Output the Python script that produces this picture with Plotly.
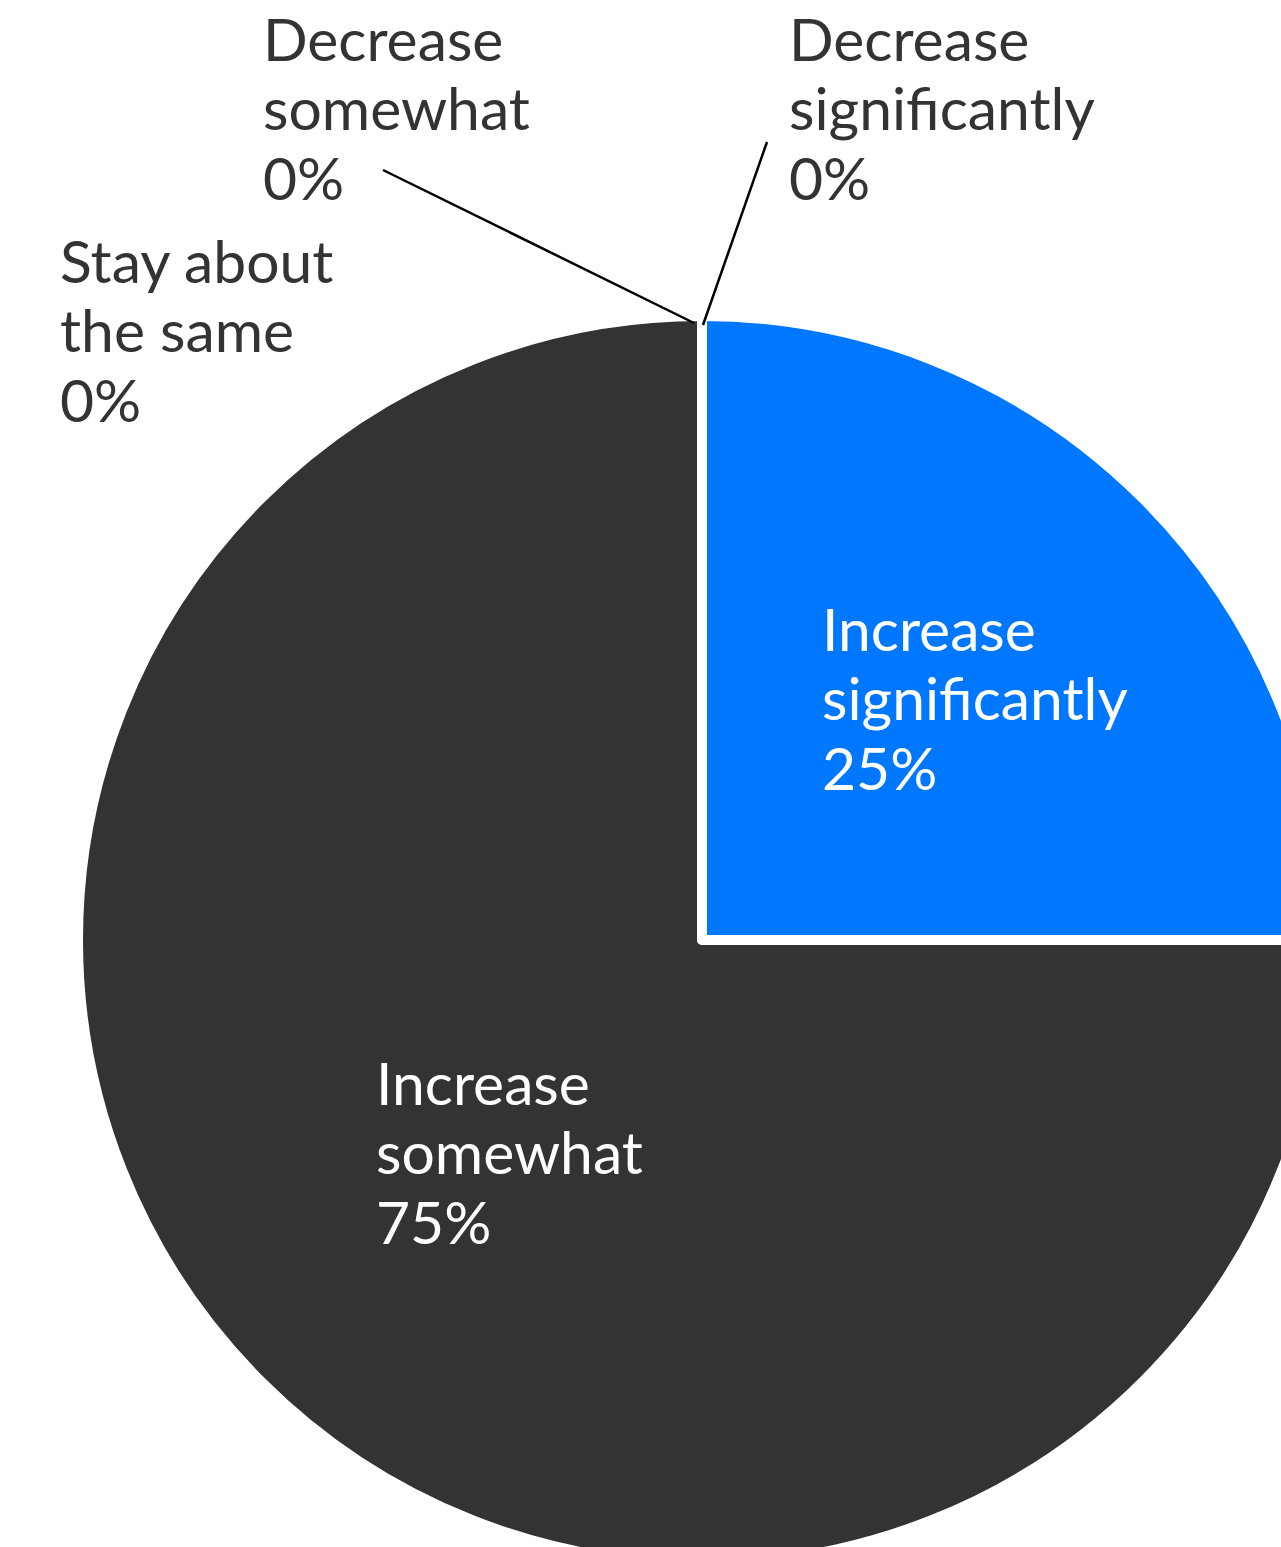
import textwrap
import plotly.graph_objects as go

# ---- data ----
categories = ["Decrease significantly", "Decrease somewhat", "Stay about the same",
              "Increase somewhat", "Increase significantly"]
values = [0, 0, 0, 75, 25]
colors = ["#9e9e9e", "#6e6e6e", "#4e4e4e", "#333333", "#0077ff"]

# ---- layout geometry (pixels) ----
L, T, S = 78, 316, 1248          # plot area left, top, size
W, H = L + S, T + S
FONT = "Lato"
FS = 58.8
LINE = 69.5

def px(x):
    return (x - L) / S

def py(y):
    return 1 - (y - T) / S

fig = go.Figure(go.Pie(
    labels=categories,
    values=values,
    sort=False,
    direction="counterclockwise",
    rotation=0,
    marker=dict(colors=colors, line=dict(color="white", width=10)),
    textinfo="none",
    hoverinfo="skip",
    showlegend=False,
    domain=dict(x=[0, 1], y=[0, 1]),
))

# label positions: left edge x, first baseline y
label_pos = {
    "Decrease significantly": (790, 62, "#333333"),
    "Decrease somewhat": (264, 62, "#333333"),
    "Stay about the same": (61, 284, "#333333"),
    "Increase somewhat": (377, 1106, "white"),
    "Increase significantly": (823, 652, "white"),
}

total = sum(values)
annotations = []
for cat, v in zip(categories, values):
    lines = textwrap.wrap(cat, width=10, break_long_words=False) + [f"{round(v / total * 100)}%"]
    x0, y0, col = label_pos[cat]
    for i, line in enumerate(lines):
        base = y0 + i * LINE
        annotations.append(dict(
            text=line, xref="paper", yref="paper",
            x=px(x0 - 2), y=py(base + 0.213 * FS),
            xanchor="left", yanchor="bottom", showarrow=False,
            borderpad=0, font=dict(family=FONT, size=FS, color=col),
        ))

shapes = [
    dict(type="line", xref="paper", yref="paper",
         x0=px(383), y0=py(170), x1=px(694), y1=py(323),
         line=dict(color="black", width=2.5)),
    dict(type="line", xref="paper", yref="paper",
         x0=px(767), y0=py(142), x1=px(703), y1=py(325),
         line=dict(color="black", width=2.5)),
]

fig.update_layout(
    width=W, height=H,
    margin=dict(l=L, t=T, r=0, b=0, pad=0),
    paper_bgcolor="white", plot_bgcolor="white",
    annotations=annotations, shapes=shapes,
    font=dict(family=FONT),
)

fig.write_html(
    "out.html",
    config={"displayModeBar": False},
    post_script="document.body.style.margin='0';document.body.style.overflow='hidden';"
                "document.documentElement.style.overflow='hidden';",
)
